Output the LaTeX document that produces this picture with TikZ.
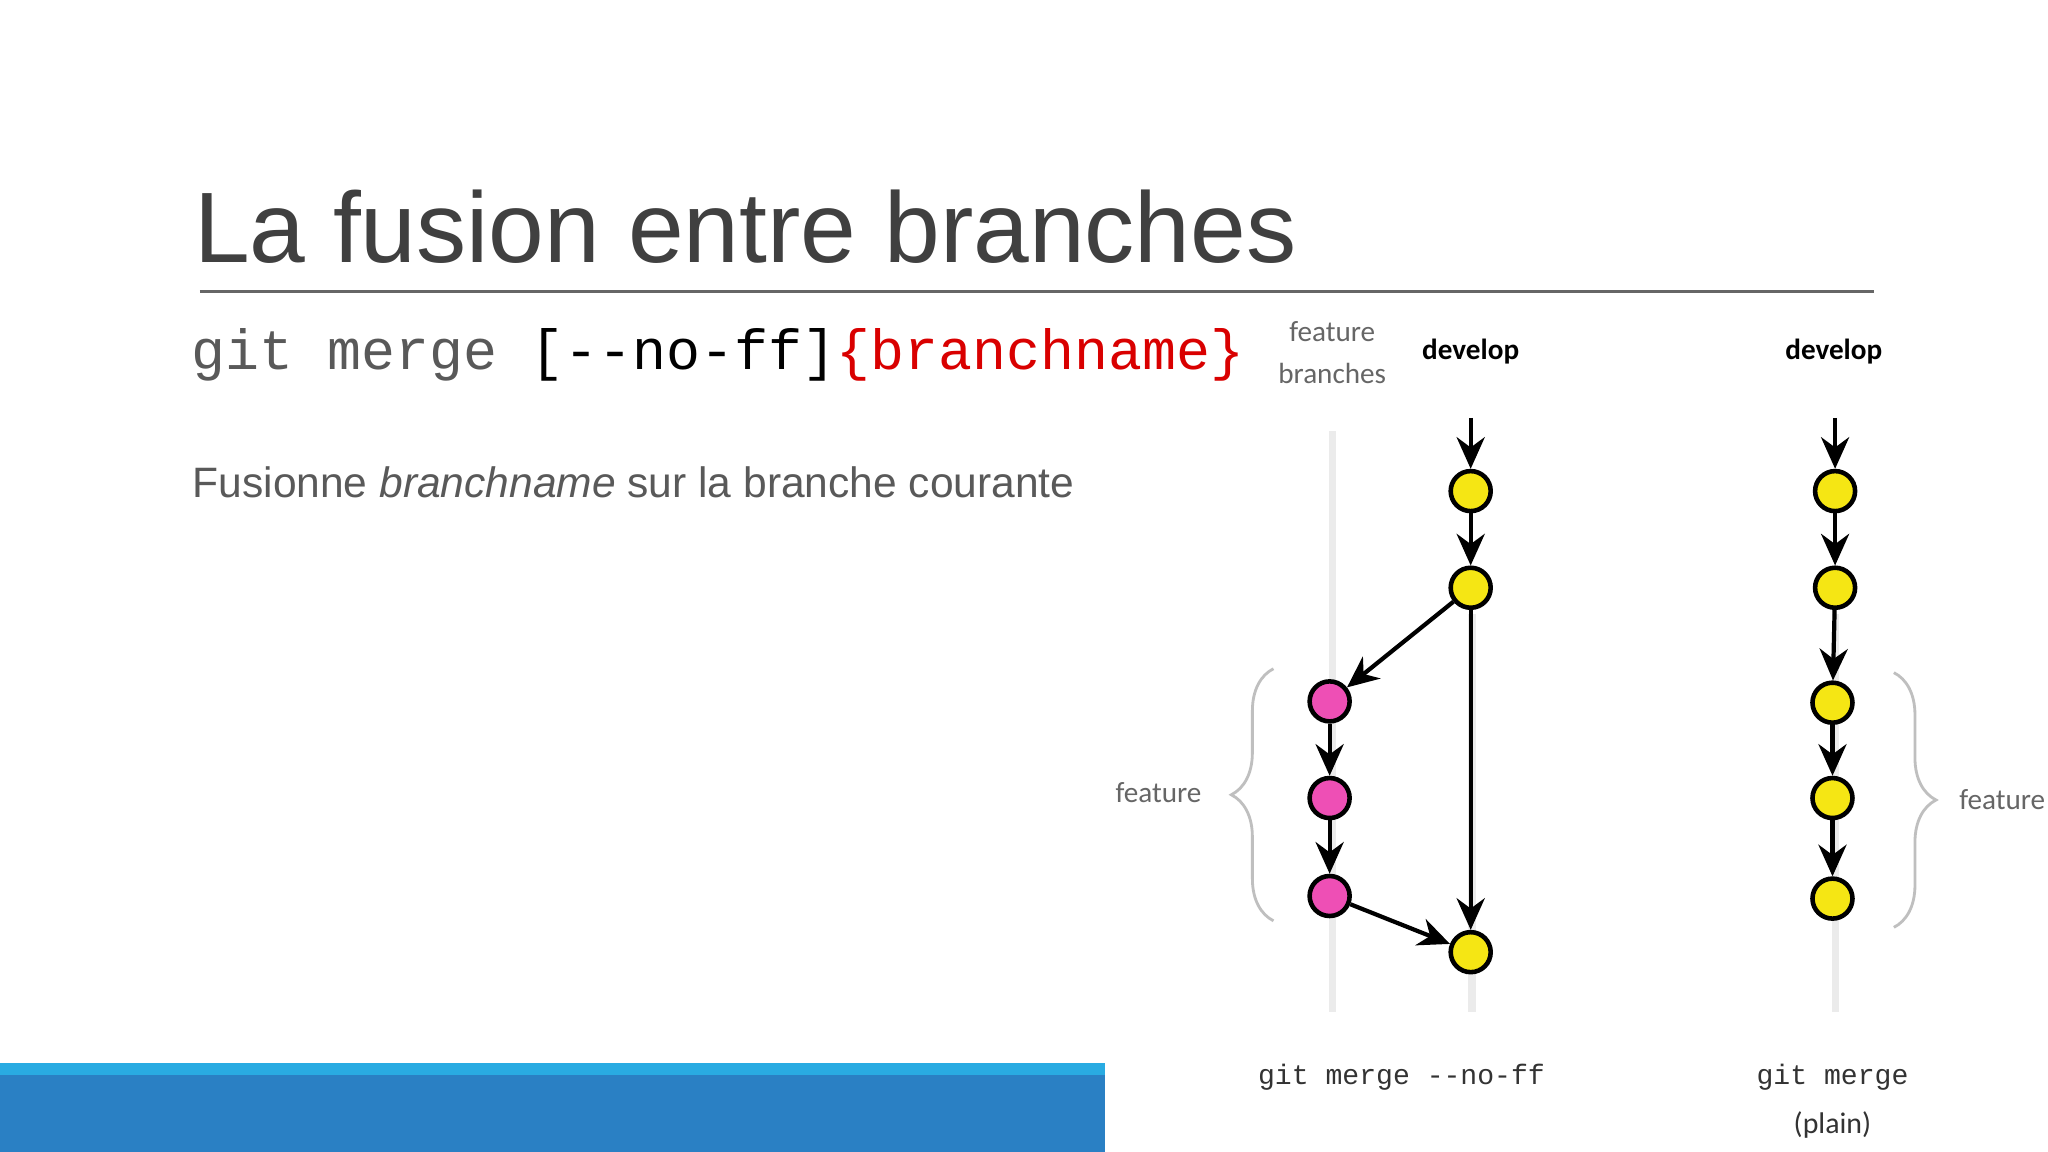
\documentclass[tikz,border=0pt]{standalone}
\usepackage{fontspec}
\setmainfont{Liberation Sans}
\setmonofont{Liberation Mono}
\newfontfamily\hand{Carlito}
\usetikzlibrary{arrows.meta,decorations.pathreplacing}
\definecolor{titlegray}{HTML}{404040}
\definecolor{txtgray}{HTML}{595959}
\definecolor{barlight}{HTML}{29ABE2}
\definecolor{bardark}{HTML}{2A80C4}
\definecolor{cyel}{HTML}{F5E614}
\definecolor{cpink}{HTML}{EE4FB5}
\begin{document}
\begin{tikzpicture}[x=0.013061cm,y=-0.013061cm,
  yc/.style={circle,draw=black,line width=1.3pt,fill=cyel,minimum size=0.4cm,inner sep=0pt},
  pc/.style={circle,draw=black,line width=1.3pt,fill=cpink,minimum size=0.4cm,inner sep=0pt},
  arr/.style={-{Stealth[length=9pt,width=8pt]},line width=1.2pt},
  lane/.style={line width=2pt,black!8},
  lbl/.style={font=\hand\fontsize{8.3}{10}\selectfont,text=black!60,align=center},
  brace/.style={decorate,decoration={brace,amplitude=12pt},black!25,line width=0.8pt}]
\useasboundingbox (0,0) rectangle (1568,882);
\fill[white] (0,0) rectangle (1568,882);
\node[anchor=base west,inner sep=0,text=titlegray,font=\fontsize{28.5}{32}\selectfont] (title) at (148,201) {La fusion entre branches};
\draw[black!60,line width=0.8pt] (153,223) -- (1435,223);
\node[anchor=base west,inner sep=0,font=\ttfamily\fontsize{16.1}{18}\selectfont] (cmd) at (146,283) {\textcolor{txtgray}{git merge }[--no-ff]\textcolor{red!85!black}{\{branchname\}}};
\node[anchor=base west,inner sep=0,text=txtgray,font=\fontsize{12.1}{14}\selectfont] (desc) at (147,381) {Fusionne \textit{branchname} sur la branche courante};
\fill[barlight] (0,814) rectangle (846,823);
\fill[bardark] (0,823) rectangle (846,882);
% lanes
\draw[lane] (1020,330) -- (1020,775);
\draw[lane] (1127,470) -- (1127,775);
\draw[lane] (1405,470) -- (1405,775);
% labels
\node[lbl] (fb) at (1020,270) {feature\\[2pt]branches};
\node[font=\hand\bfseries\fontsize{8.3}{10}\selectfont] (dev1) at (1126,269) {develop};
\node[font=\hand\bfseries\fontsize{8.3}{10}\selectfont] (dev2) at (1404,269) {develop};
\node[lbl] (fl) at (887,607) {feature};
\node[lbl] (fr) at (1533,612) {feature};
\node[font=\ttfamily\fontsize{8}{10}\selectfont,text=black!80] (m1) at (1073,825) {git merge --no-ff};
\node[font=\ttfamily\fontsize{8}{10}\selectfont,text=black!80] (m2) at (1403,825) {git merge};
\node[font=\hand\fontsize{8.5}{10}\selectfont,text=black!80] (m3) at (1403,861) {(plain)};
% braces
\draw[brace] (975,705) -- (975,512);
\draw[brace] (1450,515) -- (1450,710);
% left commits
\coordinate (s1) at (1126,320);
\node[yc] (d1) at (1126,376) {};
\node[yc] (d2) at (1126,450) {};
\node[yc] (d3) at (1126,729) {};
\node[pc] (f1) at (1018,537) {};
\node[pc] (f2) at (1018,611) {};
\node[pc] (f3) at (1018,686) {};
\draw[arr] (s1) -- (d1);
\draw[arr] (d1) -- (d2);
\draw[arr] (d2) -- (d3);
\draw[arr] (d2) -- (f1);
\draw[arr] (f1) -- (f2);
\draw[arr] (f2) -- (f3);
\draw[arr] (f3) -- (d3);
% right commits
\coordinate (s2) at (1405,320);
\node[yc] (r1) at (1405,376) {};
\node[yc] (r2) at (1405,450) {};
\node[yc] (r3) at (1403,538) {};
\node[yc] (r4) at (1403,611) {};
\node[yc] (r5) at (1403,688) {};
\draw[arr] (s2) -- (r1);
\draw[arr] (r1) -- (r2);
\draw[arr] (r2) -- (r3);
\draw[arr] (r3) -- (r4);
\draw[arr] (r4) -- (r5);
\end{tikzpicture}
\end{document}
